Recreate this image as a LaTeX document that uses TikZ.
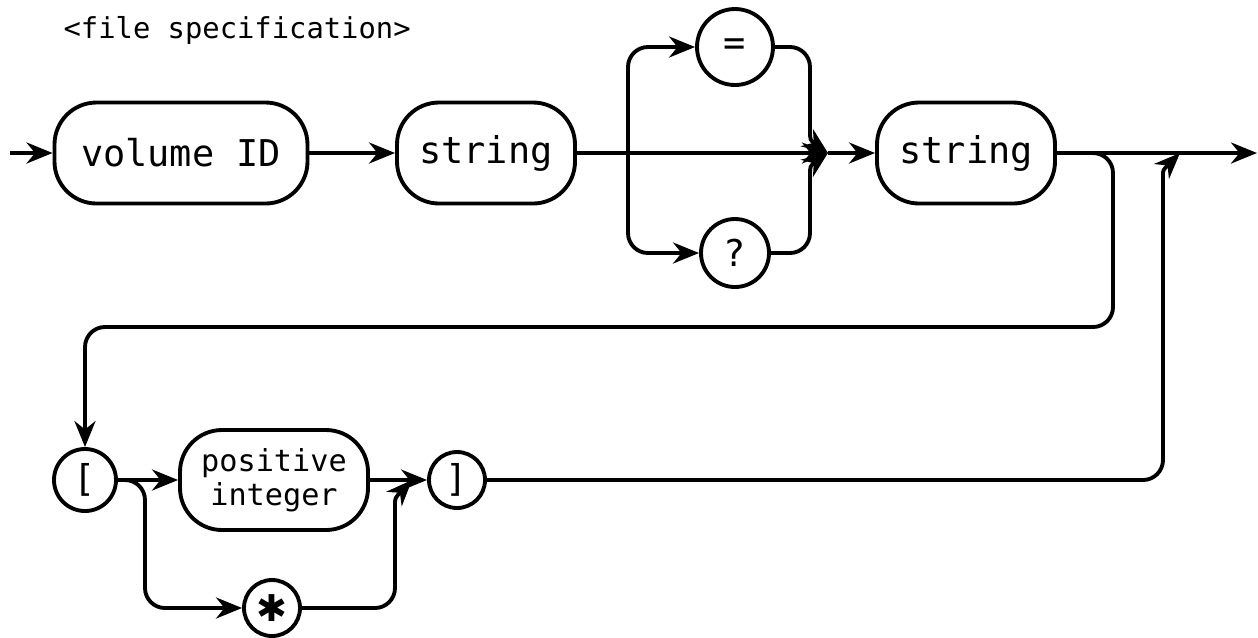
\documentclass[tikz,border=0pt]{standalone}
\usepackage{fontspec}
\setmonofont{DejaVu Sans Mono}
\newfontfamily\symfont{DejaVu Sans}
\usepackage{tikz}
\usetikzlibrary{arrows.meta}
\newcommand{\linecolor}{black}
\newcommand{\thickness}{1.1pt}
\newcommand{\bend}{2mm}
\tikzset{
  >={Stealth[length=2.6mm,width=2.1mm]},
  term/.style={draw=\linecolor, rounded corners=4.2mm, minimum height=1.01cm, inner sep=0pt, font=\ttfamily\fontsize{10.5}{10}\selectfont},
  lit/.style={draw=\linecolor, circle, inner sep=0pt, font=\ttfamily\fontsize{10.5}{10}\selectfont},
}

\begin{document}
\begin{tikzpicture}[line width=\thickness]
\useasboundingbox (0,0) rectangle (12.58,-6.37);
\node[anchor=west, font=\ttfamily\fontsize{8.2}{10}\selectfont] (title) at (0.50, -0.30) {<file specification>};
%top row
\node[term] (vol) at (1.81, -1.53) [minimum width=2.53cm] {volume ID};
\node[term] (str1) at (4.86, -1.53) [minimum width=1.78cm] {string};
\node[lit] (eq) at (7.35, -0.47) [minimum size=0.76cm] {=};
\node[lit] (qm) at (7.35, -2.53) [minimum size=0.68cm] {?};
\node[term] (str2) at (9.66, -1.53) [minimum width=1.78cm] {string};
\coordinate (in) at (0.10, -1.53);
\coordinate (out) at (12.57, -1.53);
\coordinate (split1) at (6.28, -1.53);
\coordinate (join1) at (8.28, -1.53);
\coordinate (j1a) at (8.10, -1.10);
\coordinate (j1b) at (8.10, -1.96);
\coordinate (loopR) at (11.13, -3.27);
\coordinate (ret) at (11.63, -1.95);
\coordinate (join2) at (11.80, -1.53);
%bottom row
\node[lit] (lbr) at (0.85, -4.80) [minimum size=0.62cm] {[};
\node[term] (posint) at (2.74, -4.80) [minimum width=1.88cm, minimum height=1.00cm, align=center, font=\ttfamily\fontsize{8.6}{9.6}\selectfont] {positive\\integer};
\node[lit] (rbr) at (4.57, -4.80) [minimum size=0.56cm] {]};
\node[lit] (star) at (2.72, -6.08) [minimum size=0.56cm] {{\symfont ✱}};
\coordinate (s3) at (1.45, -6.08);
\coordinate (j3) at (3.95, -5.25);
\coordinate (join3) at (4.12, -4.80);
%main line
\draw[->] (in) -- (vol);
\draw[->] (vol) -- (str1);
\draw (str1) -- (split1);
\draw[->] (split1) -- (join1);
\draw[->] (join1) -- (str2);
\draw[->] (str2) -- (out);
%= and ?
\draw[->, rounded corners=\bend] (split1) |- (eq);
\draw[->, rounded corners=\bend] (split1) |- (qm);
\draw[->, rounded corners=\bend] (eq) -| (j1a) .. controls (8.10, -1.40) .. (join1);
\draw[->, rounded corners=\bend] (qm) -| (j1b) .. controls (8.10, -1.66) .. (join1);
%loop down
\draw[->, rounded corners=\bend] (str2) -| (loopR) -| (lbr);
%brackets
\draw[->] (lbr) -- (posint);
\draw[->] (posint) -- (rbr);
\draw[->, rounded corners=\bend] (lbr) -| (s3) -- (star);
\draw[->, rounded corners=\bend] (star) -| (j3) .. controls (3.95, -4.98) .. (join3);
\draw[->, rounded corners=\bend] (rbr) -| (ret) .. controls (11.63, -1.70) .. (join2);
\end{tikzpicture}
\end{document}
